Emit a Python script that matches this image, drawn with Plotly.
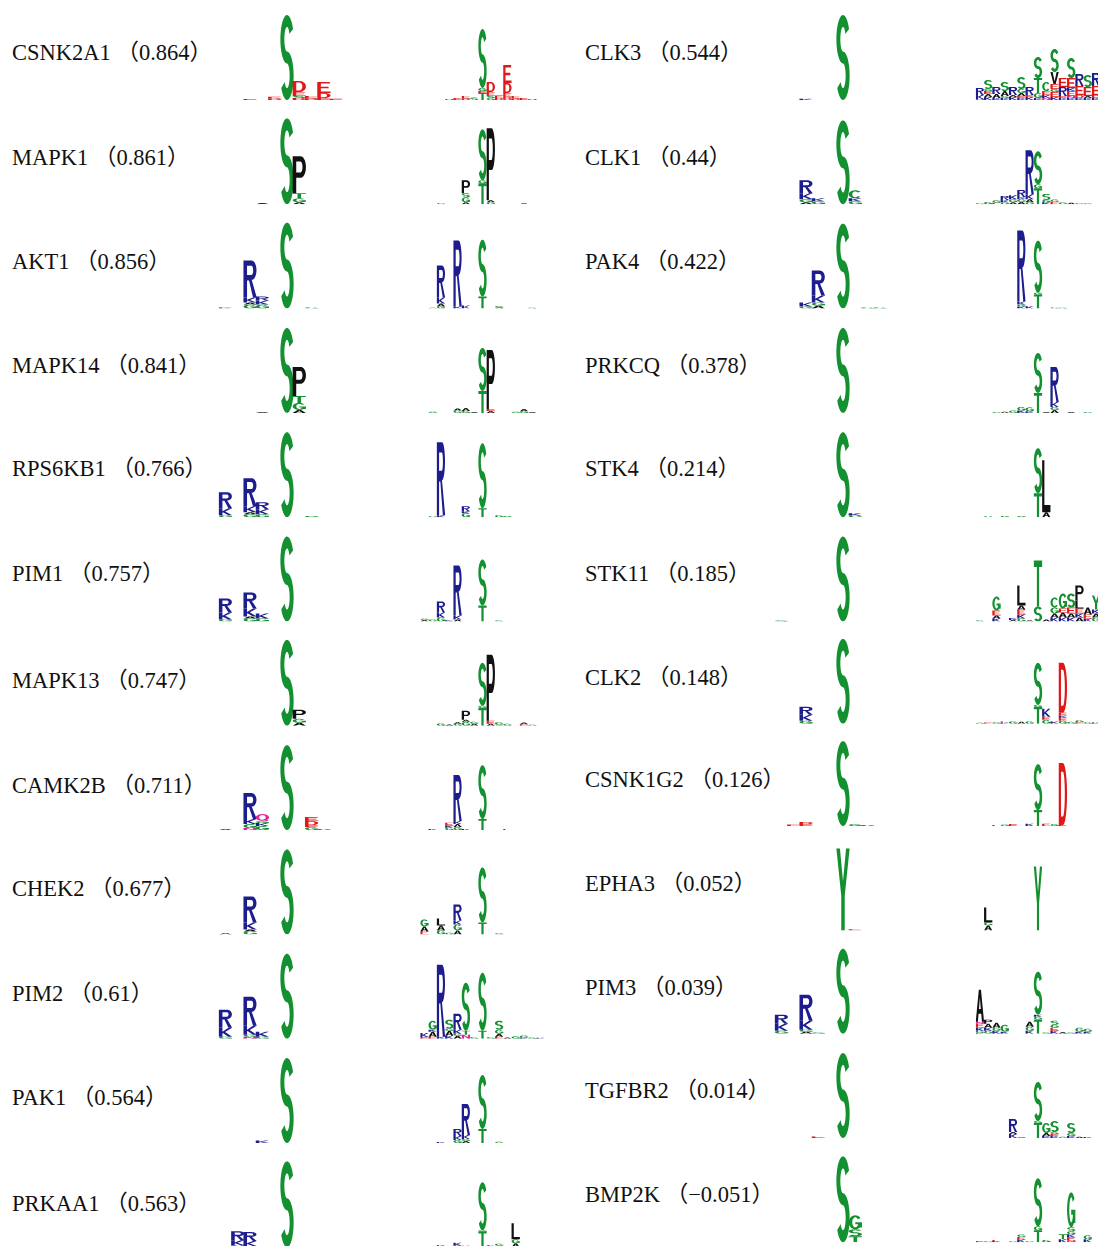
import numpy as np
import plotly.graph_objects as go

# ---------------- DATA ----------------
KINASES_LEFT = ["CSNK2A1", "MAPK1", "AKT1", "MAPK14", "RPS6KB1", "PIM1",
                "MAPK13", "CAMK2B", "CHEK2", "PIM2", "PAK1", "PRKAA1"]
SCORES_LEFT = ["0.864", "0.861", "0.856", "0.841", "0.766", "0.757",
               "0.747", "0.711", "0.677", "0.61", "0.564", "0.563"]
KINASES_RIGHT = ["CLK3", "CLK1", "PAK4", "PRKCQ", "STK4", "STK11",
                 "CLK2", "CSNK1G2", "EPHA3", "PIM3", "TGFBR2", "BMP2K"]
SCORES_RIGHT = ["0.544", "0.44", "0.422", "0.378", "0.214", "0.185",
                "0.148", "0.126", "0.052", "0.039", "0.014", "-0.051"]

# logo stacks: position -> "Letter+bits" tokens listed bottom -> top
CSNK2A1_1 = {-3: "E0.05", -1: "D0.08 E0.08", 0: "S4.25", 1: "D0.1 S0.1 E0.2 D0.55",
             2: "D0.08 E0.12", 3: "E0.1 D0.25 E0.55", 4: "E0.06"}
CSNK2A1_2 = {-4: "N0.05", -3: "E0.1", -2: "D0.08 E0.12", -1: "S0.12", 0: "T0.35 E0.1 G0.15 S2.95",
             1: "G0.1 S0.1 E0.2 D0.5", 2: "D0.1 E0.12", 3: "N0.05 D0.1 E0.2 D0.5 E0.9",
             4: "D0.08 E0.12", 5: "E0.1", 6: "N0.05"}
MAPK1_1 = {-2: "A0.06", 0: "S4.3", 1: "A0.1 G0.2 T0.25 P1.85"}
MAPK1_2 = {-5: "G0.06", -2: "A0.1 G0.25 S0.2 P0.65", 0: "T1.05 G0.15 S2.55", 1: "G0.1 A0.1 P3.6",
           5: "A0.05"}
AKT1_1 = {-5: "K0.06", -3: "G0.2 A0.1 K0.25 R1.85", -2: "G0.2 K0.2 R0.2", 0: "S4.3", 2: "G0.06"}
AKT1_2 = {-6: "G0.04", -5: "G0.1 A0.15 K0.3 R1.6", -3: "K0.1 R3.3", -2: "K0.15", 0: "T0.6 S2.85",
          2: "A0.05 G0.08", 6: "G0.05"}
MAPK14_1 = {-2: "A0.05", 0: "S4.25", 1: "A0.15 G0.35 T0.35 P1.45"}
MAPK14_2 = {-6: "G0.06", -3: "G0.12 A0.1", -2: "G0.1 A0.15", -1: "A0.05", 0: "T1.1 S2.15",
            1: "A0.1 E0.1 P2.95", 4: "G0.06", 5: "G0.08 A0.12", 6: "A0.05"}
RPS6KB1_1 = {-5: "G0.1 K0.35 R0.8", -3: "G0.15 A0.1 K0.3 R1.4", -2: "G0.15 K0.25 R0.35",
             0: "S4.25", 2: "G0.06"}
RPS6KB1_2 = {-6: "G0.05", -5: "K0.1 R3.65", -2: "G0.2 K0.1 R0.25", 0: "T0.45 S3.25", 2: "G0.1",
             3: "G0.06"}
PIM1_1 = {-5: "G0.1 K0.35 R0.7", -3: "G0.15 A0.1 K0.4 R0.8", -2: "G0.15 K0.25", 0: "S4.25"}
PIM1_2 = {-7: "A0.08 G0.06", -6: "G0.1", -5: "G0.2 K0.25 R0.55", -4: "K0.06", -3: "A0.1 K0.2 R2.5",
          0: "T0.8 S2.3", 2: "G0.06"}
MAPK13_1 = {0: "S4.3", 1: "A0.15 G0.2 P0.45"}
MAPK13_2 = {-5: "G0.12", -4: "A0.06", -3: "G0.1 A0.08", -2: "G0.2 A0.1 P0.45", -1: "A0.1 G0.1",
            0: "T0.9 G0.1 S2.15", 1: "A0.1 E0.15 P3.3", 2: "S0.06 G0.12", 3: "G0.1",
            5: "E0.08 A0.08", 6: "G0.06"}
CAMK2B_1 = {-5: "A0.05", -3: "N0.1 G0.2 K0.25 R1.3", -2: "G0.2 K0.15 G0.1 Q0.35", 0: "S4.25",
            2: "G0.15 E0.1 D0.2 E0.2", 3: "G0.06"}
CAMK2B_2 = {-6: "K0.06", -4: "G0.12 K0.1 E0.15", -3: "G0.15 A0.15 K0.15 R2.3", -2: "K0.06",
            0: "T0.55 S2.7", 3: "E0.06"}
CHEK2_1 = {-5: "A0.06", -3: "G0.15 A0.1 K0.35 R1.3", 0: "S4.25"}
CHEK2_2 = {-7: "E0.15 A0.25 G0.35", -5: "G0.2 A0.25 L0.35", -4: "G0.08",
           -3: "A0.2 G0.3 K0.2 R0.8", 0: "T0.6 S2.75", 2: "G0.06"}
PIM2_1 = {-5: "G0.1 K0.45 R0.9", -3: "N0.1 G0.1 K0.45 R1.45", -2: "G0.1 K0.25", 0: "S4.25"}
PIM2_2 = {-7: "E0.08 K0.2", -6: "E0.1 A0.25 K0.1 G0.45", -5: "K0.1 R3.6",
          -4: "K0.15 A0.25 G0.1 S0.45", -3: "A0.15 G0.1 K0.2 R0.8", -2: "N0.2 T0.2 S2.4",
          -1: "G0.08", 0: "T0.4 S2.9", 1: "G0.08", 2: "E0.1 A0.15 G0.2 S0.45", 3: "A0.06",
          4: "G0.12", 5: "K0.06 G0.1", 6: "G0.06", 7: "K0.05"}
PAK1_1 = {-2: "K0.12", 0: "S4.25"}
PAK1_2 = {-5: "K0.05", -3: "G0.15 K0.2 R0.35", -2: "A0.1 G0.1 K0.2 R1.55", 0: "T0.7 S2.7",
          2: "G0.06"}
PRKAA1_1 = {-5: "A0.06", -4: "N0.1 K0.25 R0.45", -3: "Q0.06 K0.25 R0.45", -1: "N0.06", 0: "S4.3"}
PRKAA1_2 = {-7: "A0.05", -6: "A0.05", -5: "K0.1", -4: "G0.06", -3: "G0.08 K0.15", -2: "K0.08",
            -1: "E0.06", 0: "T0.8 G0.05 S2.4", 1: "G0.12", 2: "A0.08 G0.1", 4: "A0.2 G0.2 L0.8",
            7: "A0.05"}

CLK3_1 = {-3: "K0.06", 0: "S4.25"}
CLK3_2 = {-7: "N0.05 K0.2 R0.35", -6: "K0.15 A0.15 E0.15 G0.1 S0.45", -5: "K0.1 A0.2 R0.35",
          -4: "K0.1 G0.1 A0.25 S0.45", -3: "K0.15 A0.1 R0.4", -2: "K0.1 E0.1 A0.15 G0.2 S0.6",
          -1: "K0.15 E0.1 R0.4", 0: "K0.1 G0.25 T0.75 S1.05", 1: "N0.1 K0.15 E0.2 C0.45",
          2: "K0.15 E0.25 G0.15 E0.25 V0.6 S1.15", 3: "K0.1 E0.1 R0.45 E0.45",
          4: "K0.1 N0.1 E0.25 K0.15 E0.5 S1.0", 5: "K0.1 D0.15 E0.45 R0.6",
          6: "K0.1 A0.1 E0.45 S0.6", 7: "K0.1 D0.15 E0.45 R0.65"}
CLK1_1 = {-3: "A0.1 G0.15 K0.3 R0.65", -2: "G0.15 K0.15", 0: "S4.2", 1: "G0.15 K0.15 C0.4"}
CLK1_2 = {-7: "G0.06", -6: "G0.12", -5: "E0.08 G0.12", -4: "G0.1 K0.12 R0.2", -3: "A0.1 G0.15 K0.2",
          -2: "A0.12 G0.15 K0.1 R0.35", -1: "G0.1 A0.15 K0.25 R2.2", 0: "T0.8 G0.2 S1.65",
          1: "K0.1 G0.12 S0.3", 2: "E0.12 G0.12", 3: "G0.1", 4: "A0.08", 5: "G0.06", 6: "G0.05"}
PAK4_1 = {-3: "G0.1 K0.2", -2: "A0.15 G0.15 K0.35 R1.25", 0: "S4.25", 2: "G0.06", 3: "G0.06"}
PAK4_2 = {-2: "K0.1 G0.1 K0.15 R3.55", -1: "K0.12", 0: "T0.7 G0.1 S2.6", 2: "G0.06", 3: "G0.05"}
PRKCQ_1 = {0: "S4.25"}
PRKCQ_2 = {-5: "G0.05", -4: "A0.06", -3: "G0.12", -2: "K0.12 G0.18", -1: "K0.08 G0.2",
           0: "T1.0 S2.0", 1: "A0.05", 2: "A0.15 G0.15 K0.25 R1.75", 4: "A0.05", 6: "G0.05"}
STK4_1 = {0: "S4.25", 1: "G0.08 K0.12"}
STK4_2 = {-6: "G0.05", -4: "G0.06", -2: "G0.06", 0: "T1.2 S2.25", 1: "A0.25 L2.6"}
STK11_1 = {-5: "G0.05", 0: "S4.25"}
STK11_2 = {-7: "G0.06", -5: "K0.15 A0.15 E0.25 G0.7", -3: "A0.08 K0.1",
           -2: "G0.15 K0.2 E0.25 A0.2 L1.0", -1: "A0.06", 0: "S0.75 T2.3", 1: "A0.1",
           2: "K0.2 A0.2 G0.3 C0.5", 3: "K0.2 A0.25 E0.2 G0.75", 4: "K0.2 A0.2 E0.3 S0.7",
           5: "A0.2 K0.2 E0.25 L0.4 P0.75", 6: "K0.15 E0.2 A0.35", 7: "G0.2 A0.2 K0.2 Y0.7"}
CLK2_1 = {-3: "G0.15 K0.3 R0.4", 0: "S4.25"}
CLK2_2 = {-7: "G0.05", -6: "E0.06", -5: "G0.08", -4: "K0.06 E0.06", -3: "G0.12", -2: "A0.1",
          -1: "G0.12", 0: "T0.85 G0.1 S2.1", 1: "G0.2 E0.15 K0.4", 2: "K0.12",
          3: "G0.15 E0.15 K0.1 E0.15 D2.5", 4: "G0.1", 5: "E0.08 G0.1", 6: "G0.08", 7: "K0.06"}
CSNK1G2_1 = {-4: "E0.08", -3: "E0.1 D0.1", 0: "S4.25", 1: "G0.1", 2: "G0.06"}
CSNK1G2_2 = {-5: "E0.06", -4: "G0.08", -3: "E0.1", -1: "K0.12", 0: "T0.8 S2.3", 1: "E0.12",
             2: "G0.1", 3: "E0.05 D3.1"}
EPHA3_1 = {0: "Y4.1", 1: "E0.06"}
EPHA3_2 = {-6: "A0.25 G0.15 L0.75", 0: "Y3.2"}
PIM3_1 = {-5: "G0.15 K0.35 R0.45", -3: "A0.1 G0.1 K0.45 R1.3", -2: "G0.06", 0: "S4.25"}
PIM3_2 = {-7: "K0.05 G0.1 K0.15 E0.2 N0.1 A1.6", -6: "G0.15 K0.15 A0.2 P0.2",
          -5: "K0.15 G0.15 A0.25", -4: "K0.1 G0.35", -1: "K0.15 G0.2 A0.25",
          0: "T0.7 G0.15 K0.1 S2.15", 1: "G0.06", 2: "K0.15 E0.15 G0.15 S0.2", 3: "A0.08",
          4: "G0.06", 5: "K0.1 G0.2", 6: "K0.1 G0.15"}
TGFBR2_1 = {-2: "E0.08", 0: "S4.25"}
TGFBR2_2 = {-3: "K0.2 A0.1 R0.65", -2: "G0.05", 0: "T0.75 G0.1 S1.95", 1: "K0.1 A0.15 G0.5",
            2: "K0.1 E0.1 G0.1 S0.55", 3: "G0.06", 4: "K0.1 G0.15 S0.5", 5: "A0.06", 6: "K0.05"}
BMP2K_1 = {0: "S4.3", 1: "T0.3 S0.35 G0.7"}
BMP2K_2 = {-7: "E0.06", -6: "G0.06", -5: "K0.06 E0.06", -3: "G0.06", -2: "K0.15 E0.12 G0.12",
           -1: "G0.06", 0: "T0.6 G0.2 S2.4", 1: "G0.12", 3: "K0.15 T0.25",
           4: "N0.1 E0.15 K0.15 G0.15 S0.2 G1.75", 6: "K0.15 G0.2"}

LEFT_LOGOS = [(CSNK2A1_1, CSNK2A1_2), (MAPK1_1, MAPK1_2), (AKT1_1, AKT1_2), (MAPK14_1, MAPK14_2),
              (RPS6KB1_1, RPS6KB1_2), (PIM1_1, PIM1_2), (MAPK13_1, MAPK13_2), (CAMK2B_1, CAMK2B_2),
              (CHEK2_1, CHEK2_2), (PIM2_1, PIM2_2), (PAK1_1, PAK1_2), (PRKAA1_1, PRKAA1_2)]
RIGHT_LOGOS = [(CLK3_1, CLK3_2), (CLK1_1, CLK1_2), (PAK4_1, PAK4_2), (PRKCQ_1, PRKCQ_2),
               (STK4_1, STK4_2), (STK11_1, STK11_2), (CLK2_1, CLK2_2), (CSNK1G2_1, CSNK1G2_2),
               (EPHA3_1, EPHA3_2), (PIM3_1, PIM3_2), (TGFBR2_1, TGFBR2_2), (BMP2K_1, BMP2K_2)]

# ---------------- STYLE / LAYOUT ----------------
W, H = 1098, 1246
GREEN, BLUE, RED, BLACK, PINK = "#13902f", "#1d1d8e", "#e01818", "#111111", "#e0239c"
COLORS = {}
for aa in "GSTYC":
    COLORS[aa] = GREEN
for aa in "KRH":
    COLORS[aa] = BLUE
for aa in "DE":
    COLORS[aa] = RED
for aa in "AVLIPWFM":
    COLORS[aa] = BLACK
for aa in "NQ":
    COLORS[aa] = PINK

# logo columns: (center px of position 0, px per position, letter width fraction)
COLS = [(287.0, 12.3, 1.08), (482.5, 8.3, 1.0), (843.0, 12.3, 1.08), (1038.0, 8.3, 1.0)]
NPOS = 7.5
PX_PER_BIT = 20.0
ROW_STEP = 104.3
ROW0_BASE = 100.0
RIGHT_SHIFT = [0, 0, 0, 0, 0, 0, -2, -4, -4, -5, -5, -5]
LABEL_Y_LEFT = [53, 157, 261, 366, 469, 573, 680, 785, 888, 993, 1097, 1203]
LABEL_Y_RIGHT = [53, 157, 261, 366, 469, 573, 677, 779, 883, 987, 1090, 1194]


# ---------------- GLYPHS (unit box) ----------------
def arc(cx, cy, rx, ry, a0, a1, n=22):
    t = np.radians(np.linspace(a0, a1, n))
    return [(cx + rx * np.cos(a), cy + ry * np.sin(a)) for a in t]


def glyph_S():
    w, h = 0.3, 0.14
    ryc = (0.5 - h / 2) / 2
    cy1, cy2 = 0.5 + ryc, 0.5 - ryc
    ro, ri = (0.5, ryc + h / 2), (0.5 - w, ryc - h / 2)
    pts = (arc(0.5, cy1, ro[0], ro[1], 25, 270) + arc(0.5, cy2, ri[0], ri[1], 90, -150)
           + arc(0.5, cy2, ro[0], ro[1], -150, 90) + arc(0.5, cy1, ri[0], ri[1], 270, 25))
    return [[pts]]


def c_shape(a0, a1, w=0.27, h=0.14):
    return [arc(0.5, 0.5, 0.5, 0.5, a0, a1) + arc(0.5, 0.5, 0.5 - w, 0.5 - h, a1, a0)]


SW, SH = 0.27, 0.14
GLYPHS = {
    "S": glyph_S(),
    "C": [c_shape(40, 320)],
    "G": [c_shape(38, 340), [[(0.5, 0.36), (0.5, 0.5), (1.0, 0.5), (1.0, 0.12), (0.75, 0.12), (0.75, 0.36)]]],
    "T": [[[(0, 1), (1, 1), (1, 1 - SH), (0.5 + SW / 2, 1 - SH), (0.5 + SW / 2, 0),
            (0.5 - SW / 2, 0), (0.5 - SW / 2, 1 - SH), (0, 1 - SH)]]],
    "Y": [[[(0, 1), (0.27, 1), (0.5, 0.6), (0.73, 1), (1, 1), (0.63, 0.42), (0.63, 0),
            (0.37, 0), (0.37, 0.42)]]],
    "R": [[[(0, 0), (0, 1), (0.62, 1)] + arc(0.62, 0.74, 0.36, 0.26, 90, -90)
           + [(1.0, 0), (0.72, 0), (0.42, 0.46), (SW, 0.46), (SW, 0)],
           [(SW, 0.61), (SW, 1 - SH), (0.6, 1 - SH)] + arc(0.6, 0.735, 0.13, 0.125, 90, -90)]],
    "P": [[[(0, 0), (0, 1), (0.6, 1)] + arc(0.6, 0.71, 0.4, 0.29, 90, -90) + [(SW, 0.42), (SW, 0)],
           [(SW, 0.56), (SW, 1 - SH), (0.58, 1 - SH)] + arc(0.58, 0.71, 0.16, 0.15, 90, -90)]],
    "D": [[[(0, 0), (0, 1), (0.5, 1)] + arc(0.5, 0.5, 0.5, 0.5, 90, -90),
           [(SW, SH), (SW, 1 - SH), (0.5, 1 - SH)] + arc(0.5, 0.5, 0.5 - SW, 0.5 - SH, 90, -90)]],
    "E": [[[(0, 0), (0, 1), (0.95, 1), (0.95, 1 - SH), (SW, 1 - SH), (SW, 0.57), (0.85, 0.57),
            (0.85, 0.43), (SW, 0.43), (SW, SH), (1, SH), (1, 0)]]],
    "F": [[[(0, 0), (0, 1), (1, 1), (1, 1 - SH), (SW, 1 - SH), (SW, 0.57), (0.85, 0.57),
            (0.85, 0.43), (SW, 0.43), (SW, 0)]]],
    "L": [[[(0, 0), (0, 1), (SW, 1), (SW, SH), (1, SH), (1, 0)]]],
    "K": [[[(0, 0), (0, 1), (SW, 1), (SW, 0.55), (0.72, 1), (1, 1), (0.47, 0.53), (1, 0),
            (0.72, 0), (0.3, 0.41), (SW, 0.35), (SW, 0)]]],
    "H": [[[(0, 0), (0, 1), (SW, 1), (SW, 0.57), (1 - SW, 0.57), (1 - SW, 1), (1, 1), (1, 0),
            (1 - SW, 0), (1 - SW, 0.43), (SW, 0.43), (SW, 0)]]],
    "N": [[[(0, 0), (0, 1), (SW, 1), (1 - SW, 0.35), (1 - SW, 1), (1, 1), (1, 0), (1 - SW, 0),
            (SW, 0.65), (SW, 0)]]],
    "Q": [[arc(0.5, 0.52, 0.5, 0.48, 0, 360), arc(0.5, 0.52, 0.25, 0.34, 360, 0)],
          [[(0.55, 0.25), (0.75, 0.25), (1.0, 0.0), (0.8, 0.0)]]],
    "A": [[[(0, 0), (0.37, 1), (0.63, 1), (1, 0), (0.74, 0), (0.66, 0.25), (0.34, 0.25), (0.26, 0)],
           [(0.39, 0.4), (0.61, 0.4), (0.5, 0.76)]]],
    "V": [[[(0, 1), (0.26, 1), (0.5, 0.22), (0.74, 1), (1, 1), (0.63, 0), (0.37, 0)]]],
}


def parse_stack(s):
    out = []
    for tok in s.split():
        out.append((tok[0], float(tok[1:])))
    return out


def letter_path(comp, x0, width, y0, height):
    parts = []
    for ring in comp:
        coords = ["%.4f,%.4f" % (x0 + gx * width, y0 + gy * height) for gx, gy in ring]
        parts.append("M" + "L".join(coords) + "Z")
    return "".join(parts)


fig = go.Figure()
layout = dict(width=W, height=H, margin=dict(l=0, r=0, t=0, b=0),
              paper_bgcolor="white", plot_bgcolor="rgba(0,0,0,0)", showlegend=False)

# x axes (one per logo column)
for ci, (cen, sp, _) in enumerate(COLS):
    left_px, right_px = cen - NPOS * sp, cen + NPOS * sp
    lp, rp = max(0.0, left_px), min(float(W), right_px)
    rng = [(lp - cen) / sp, (rp - cen) / sp]
    name = "xaxis" if ci == 0 else "xaxis%d" % (ci + 1)
    layout[name] = dict(domain=[lp / W, rp / W], range=rng, visible=False, fixedrange=True,
                        anchor="y")

# y axes: 1..12 for left rows, 13..24 for right rows
for side in range(2):
    for r in range(12):
        idx = side * 12 + r + 1
        base = ROW0_BASE + ROW_STEP * r + (RIGHT_SHIFT[r] if side else 0)
        top = base - 100.0
        bot_px = min(float(H), base)
        y_lo = (base - bot_px) / PX_PER_BIT
        y_hi = (base - top) / PX_PER_BIT
        name = "yaxis" if idx == 1 else "yaxis%d" % idx
        layout[name] = dict(domain=[1 - bot_px / H, 1 - top / H], range=[y_lo, y_hi],
                            visible=False, fixedrange=True, anchor="x")

shapes = []


def draw_logo(stacks, xi, yi):
    xref = "x" if xi == 1 else "x%d" % xi
    yref = "y" if yi == 1 else "y%d" % yi
    # invisible trace to register the subplot
    fig.add_trace(go.Scatter(x=[0], y=[0], mode="markers", marker=dict(opacity=0),
                             hoverinfo="skip", xaxis=xref, yaxis=yref))
    lw = COLS[xi - 1][2]
    for pos, s in stacks.items():
        y0 = 0.0
        for aa, h in parse_stack(s):
            for comp in GLYPHS[aa]:
                shapes.append(dict(type="path", xref=xref, yref=yref,
                                   path=letter_path(comp, pos - lw / 2, lw, y0, h),
                                   fillcolor=COLORS[aa], line=dict(width=0),
                                   fillrule="evenodd", layer="above"))
            y0 += h


for r in range(12):
    a, b = LEFT_LOGOS[r]
    draw_logo(a, 1, r + 1)
    draw_logo(b, 2, r + 1)
    a, b = RIGHT_LOGOS[r]
    draw_logo(a, 3, 13 + r)
    draw_logo(b, 4, 13 + r)

annotations = []
FONT = dict(family="Liberation Serif, Noto Sans CJK SC, serif", size=22.5, color="#111111")


def fmt(score):
    return score.replace("-", "\u2212")


for r in range(12):
    annotations.append(dict(text="%s （%s）" % (KINASES_LEFT[r], fmt(SCORES_LEFT[r])),
                            xref="paper", yref="paper", x=10 / W, y=1 - LABEL_Y_LEFT[r] / H,
                            xanchor="left", yanchor="middle", showarrow=False, font=FONT))
    annotations.append(dict(text="%s （%s）" % (KINASES_RIGHT[r], fmt(SCORES_RIGHT[r])),
                            xref="paper", yref="paper", x=583 / W, y=1 - LABEL_Y_RIGHT[r] / H,
                            xanchor="left", yanchor="middle", showarrow=False, font=FONT))

layout["shapes"] = shapes
layout["annotations"] = annotations
fig.update_layout(**layout)
fig.write_html("out.html", config={"displayModeBar": False},
               post_script="document.body.style.margin='0px';")
